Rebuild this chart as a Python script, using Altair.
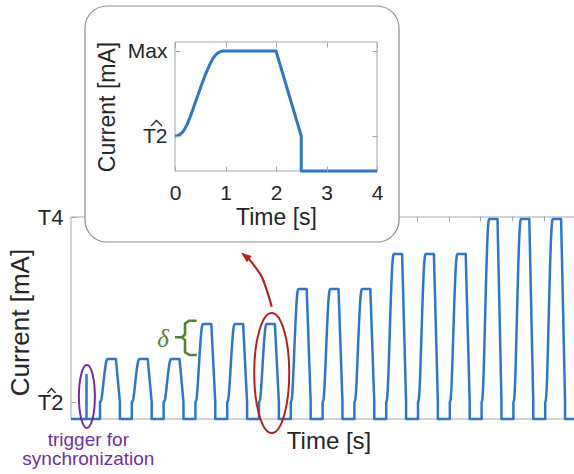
import altair as alt
import pandas as pd

# ---------------- values ----------------
# main panel (current in arbitrary units, time in seconds)
main_T2 = 17
main_T4 = 202
time_start = 0.5
time_end = 64
pulse_starts = [4.15, 8.15, 12.15, 16.15, 20.15, 24.15, 28.15, 32.15,
                36.15, 40.15, 44.15, 48.15, 52.15, 56.15, 60.15]
pulse_levels = [60, 60, 60, 95, 95, 95, 130, 130, 130,
                165, 165, 165, 200, 200, 200]
trigger_time = 2.45
trigger_peak = 44
main_top_ticks = [4, 8, 12, 16, 20, 24, 28, 32, 36, 40, 44, 48, 52, 56, 60]

# single stimulation cycle (inset): smooth rise 0-1 s, plateau to 2 s, ramp to 2.5 s
rise_time = [0.0, 0.05, 0.1, 0.15, 0.2, 0.25, 0.3, 0.35, 0.4, 0.45, 0.5,
             0.55, 0.6, 0.65, 0.7, 0.75, 0.8, 0.85, 0.9, 0.95, 1.0]
rise_frac = [0.0, 0.004, 0.018, 0.045, 0.09, 0.15, 0.225, 0.305, 0.39, 0.475, 0.56,
             0.64, 0.72, 0.79, 0.855, 0.91, 0.95, 0.978, 0.993, 0.999, 1.0]
plateau_end = 2.0
ramp_end = 2.5
cycle_end = 4.0
inset_T2 = 35
inset_max = 120
inset_top = 129
inset_ticks_x = [0, 1, 2, 3, 4]

# annotations (main-panel data coordinates)
trig_ell_t, trig_ell_v = 2.5, 22.5
high_ell_t, high_ell_v = 25.75, 46
arrow_t = [25.75, 25.12, 24.49, 23.64, 22.80, 22.14]
arrow_v = [112.3, 129.0, 142.3, 152.3, 160.7, 164.5]
arrow_head_t, arrow_head_v = 22.41, 163.1
brace_up_t = [16.31, 15.40, 14.84, 14.84, 14.46, 13.58]
brace_up_v = [98.3, 98.3, 95.5, 84.5, 81.7, 81.7]
brace_lo_t = [16.31, 15.40, 14.84, 14.84, 14.46]
brace_lo_v = [64.0, 64.0, 66.8, 78.9, 81.7]
delta_t, delta_v = 12.07, 80
trig_text = ["trigger for", "synchronization"]
trig_text_t = 2.68
trig_text_v = [-21, -40]
# circumflex over the T2 tick labels (main and inset)
hat_main_t = [-2.456, -1.953, -1.450]
hat_main_v = [26.0, 30.5, 26.0]
hat_inset_t = [-0.475, -0.366, -0.257]
hat_inset_v = [45.0, 50.5, 45.0]
# inset box (inset data coordinates)
box_t = [-1.782, 4.436]
box_v = [-71, 165]

# ---------------- styles ----------------
FONT = "Liberation Sans"
TXT = "#262626"
GRAY = "#a6a6a6"
BLUE = "#2f77c3"
RED = "#b3221d"
PURPLE = "#7030a0"
GREEN = "#548235"

# ---------------- tables ----------------
rows = [(time_start, 0), (trigger_time, 0), (trigger_time, trigger_peak), (trigger_time, 0)]
for s, L in zip(pulse_starts, pulse_levels):
    rows.append((s, 0))
    for t, f in zip(rise_time, rise_frac):
        rows.append((s + t, main_T2 + f * (L - main_T2)))
    rows.append((s + plateau_end, L))
    rows.append((s + ramp_end, main_T2))
    rows.append((s + ramp_end, 0))
rows.append((time_end, 0))
main_df = pd.DataFrame(rows, columns=["t", "v"])
main_df["i"] = range(len(main_df))

irows = [(t, inset_T2 + f * (inset_max - inset_T2)) for t, f in zip(rise_time, rise_frac)]
irows += [(plateau_end, inset_max), (ramp_end, inset_T2), (ramp_end, 0), (cycle_end, 0)]
inset_df = pd.DataFrame(irows, columns=["t", "v"])
inset_df["i"] = range(len(inset_df))

arrow_df = pd.DataFrame({"t": arrow_t, "v": arrow_v, "i": range(len(arrow_t))})
brace_df = pd.concat([
    pd.DataFrame({"t": brace_up_t, "v": brace_up_v, "g": "a", "i": range(len(brace_up_t))}),
    pd.DataFrame({"t": brace_lo_t, "v": brace_lo_v, "g": "b", "i": range(len(brace_lo_t))}),
])
hat_main_df = pd.DataFrame({"t": hat_main_t, "v": hat_main_v, "i": range(3)})
hat_inset_df = pd.DataFrame({"t": hat_inset_t, "v": hat_inset_v, "i": range(3)})

# ---------------- scales ----------------
MX = alt.Scale(domain=[time_start, time_end], range=[71, 575.8], nice=False, zero=False)
MY = alt.Scale(domain=[0, main_T4], range=[419, 217], nice=False, zero=False)
IX = alt.Scale(domain=[0, 4], range=[175, 377], nice=False, zero=False)
IY = alt.Scale(domain=[0, inset_top], range=[171, 42], nice=False, zero=False)


def mx(field="t", axis=None):
    return alt.X(f"{field}:Q", scale=MX, axis=axis, title=None)


def my(field="v", axis=None):
    return alt.Y(f"{field}:Q", scale=MY, axis=axis, title=None)


def ix(field="t", axis=None):
    return alt.X(f"{field}:Q", scale=IX, axis=axis, title=None)


def iy(field="v", axis=None):
    return alt.Y(f"{field}:Q", scale=IY, axis=axis, title=None)


# ---------------- axes ----------------
ax_main_bottom = alt.Axis(orient="bottom", offset=-55, domain=False, ticks=False, labels=False,
                          grid=False, title="Time [s]", titleFont=FONT, titleFontSize=24,
                          titleFontWeight="normal", titleColor=TXT, titleX=328.5, titleY=10,
                          titleBaseline="top", titleAlign="center")
ax_main_left = alt.Axis(orient="left", offset=-76, domain=False, tickSize=5, tickColor=GRAY,
                        tickWidth=1, values=[main_T2, main_T4],
                        labelExpr=f"datum.value == {main_T4} ? 'T4' : 'T2'",
                        labelFont=FONT, labelFontSize=22, labelColor=TXT, labelPadding=8,
                        grid=False, title="Current [mA]", titleFont=FONT, titleFontSize=26,
                        titleFontWeight="normal", titleColor=TXT, titleX=-43, titleY=322,
                        titleAngle=270, titleBaseline="bottom", titleAlign="center")
ax_main_top = alt.Axis(orient="top", offset=-221, domain=False, tickSize=5, tickColor=GRAY,
                       tickWidth=1, labels=False, values=main_top_ticks, grid=False)

ax_in_bottom = alt.Axis(orient="bottom", offset=-308, domain=False, tickSize=5, tickColor=GRAY,
                        tickWidth=1, values=inset_ticks_x, format="d", labelFont=FONT,
                        labelFontSize=21, labelColor=TXT, labelPadding=11, labelFlush=False,
                        grid=False, title="Time [s]", titleFont=FONT, titleFontSize=23,
                        titleFontWeight="normal", titleColor=TXT, titleX=276, titleY=40,
                        titleBaseline="top", titleAlign="center", zindex=1)
ax_in_left = alt.Axis(orient="left", offset=-180, domain=False, tickSize=5, tickColor=GRAY,
                      tickWidth=1, values=[inset_T2, inset_max],
                      labelExpr=f"datum.value == {inset_max} ? 'Max' : 'T2'",
                      labelFont=FONT, labelFontSize=21, labelColor=TXT, labelPadding=8,
                      grid=False, title="Current [mA]", titleFont=FONT, titleFontSize=23,
                      titleFontWeight="normal", titleColor=TXT, titleX=-61, titleY=106.5,
                      titleAngle=270, titleBaseline="bottom", titleAlign="center", zindex=1)
ax_in_top = alt.Axis(orient="top", offset=-47, domain=False, tickSize=5, tickColor=GRAY,
                     tickWidth=1, labels=False, values=inset_ticks_x, grid=False, zindex=1)
ax_in_right = alt.Axis(orient="right", offset=-202, domain=False, tickSize=5, tickColor=GRAY,
                       tickWidth=1, labels=False, values=[inset_T2, inset_max], grid=False,
                       zindex=1)

# ---------------- layers ----------------
frame_df = pd.DataFrame({"t": [time_start], "t2": [time_end], "v": [0], "v2": [main_T4]})
main_frame = alt.Chart(frame_df).mark_rect(fillOpacity=0, stroke=GRAY, strokeWidth=1).encode(
    x=mx(axis=ax_main_bottom), x2="t2:Q", y=my(axis=ax_main_left), y2="v2:Q")

main_line = alt.Chart(main_df).mark_line(color=BLUE, strokeWidth=2.5, strokeJoin="round").encode(
    x=mx(axis=ax_main_top), y=my(), order="i:Q")


def ellipse_path(a):
    k = 0.5523
    return (f"M {a} 0 C {a} {k} {a*k:.4f} 1 0 1 C {-a*k:.4f} 1 {-a} {k} {-a} 0 "
            f"C {-a} {-k} {-a*k:.4f} -1 0 -1 C {a*k:.4f} -1 {a} {-k} {a} 0 Z")


trig_ell = alt.Chart(pd.DataFrame({"t": [trig_ell_t], "v": [trig_ell_v]})).mark_point(
    shape=ellipse_path(0.254), size=63 * 63, filled=False, stroke=PURPLE, strokeWidth=2,
    opacity=1).encode(x=mx(), y=my())
high_ell = alt.Chart(pd.DataFrame({"t": [high_ell_t], "v": [high_ell_v]})).mark_point(
    shape=ellipse_path(0.292), size=120 * 120, filled=False, stroke=RED, strokeWidth=2,
    opacity=1).encode(x=mx(), y=my())

arrow_line = alt.Chart(arrow_df).mark_line(color=RED, strokeWidth=2.2, interpolate="cardinal").encode(
    x=mx(), y=my(), order="i:Q")
arrow_head = alt.Chart(pd.DataFrame({"t": [arrow_head_t], "v": [arrow_head_v]})).mark_point(
    shape="M 0 -1 L 0.75 1 L -0.75 1 Z", size=110, filled=True, color=RED, opacity=1,
    angle=308).encode(x=mx(), y=my())

brace = alt.Chart(brace_df).mark_line(color=GREEN, strokeWidth=2.6, strokeJoin="round").encode(
    x=mx(), y=my(), detail="g:N", order="i:Q")
delta = alt.Chart(pd.DataFrame({"t": [delta_t], "v": [delta_v], "s": ["δ"]})).mark_text(
    font="Liberation Serif", fontStyle="italic", fontSize=25, color=GREEN, baseline="middle",
    align="center").encode(x=mx(), y=my(), text="s:N")
trig_label = alt.Chart(pd.DataFrame({"t": [trig_text_t] * 2, "v": trig_text_v, "s": trig_text})).mark_text(
    font=FONT, fontSize=19, color=PURPLE, baseline="middle", align="center").encode(
    x=mx(), y=my(), text="s:N")
hat_main = alt.Chart(hat_main_df).mark_line(color=TXT, strokeWidth=1.3, strokeJoin="miter").encode(
    x=mx(), y=my(), order="i:Q")

box_df = pd.DataFrame({"t": [box_t[0]], "t2": [box_t[1]], "v": [box_v[0]], "v2": [box_v[1]]})
inset_box = alt.Chart(box_df).mark_rect(fill="white", stroke="#8c8c8c", strokeWidth=1.2,
                                        cornerRadius=22).encode(
    x=ix(), x2="t2:Q", y=iy(), y2="v2:Q")

iframe_df = pd.DataFrame({"t": [0], "t2": [4], "v": [0], "v2": [inset_top]})
inset_frame = alt.Chart(iframe_df).mark_rect(fillOpacity=0, stroke=GRAY, strokeWidth=1).encode(
    x=ix(axis=ax_in_top), x2="t2:Q", y=iy(axis=ax_in_right), y2="v2:Q")
inset_line = alt.Chart(inset_df).mark_line(color=BLUE, strokeWidth=3, strokeJoin="round").encode(
    x=ix(axis=ax_in_bottom), y=iy(axis=ax_in_left), order="i:Q")
hat_inset = alt.Chart(hat_inset_df).mark_line(color=TXT, strokeWidth=1.3, strokeJoin="miter").encode(
    x=ix(), y=iy(), order="i:Q")

chart = alt.layer(
    main_frame, main_line, trig_ell, high_ell, arrow_line, arrow_head, brace, delta,
    trig_label, hat_main, inset_box, inset_frame, inset_line, hat_inset
).resolve_scale(x="independent", y="independent").resolve_axis(
    x="independent", y="independent"
).properties(
    width=574, height=474, padding=0, autosize=alt.AutoSizeParams(type="none")
).configure_view(stroke=None)

chart.save("out.html", embed_options={"renderer": "svg", "actions": False})
